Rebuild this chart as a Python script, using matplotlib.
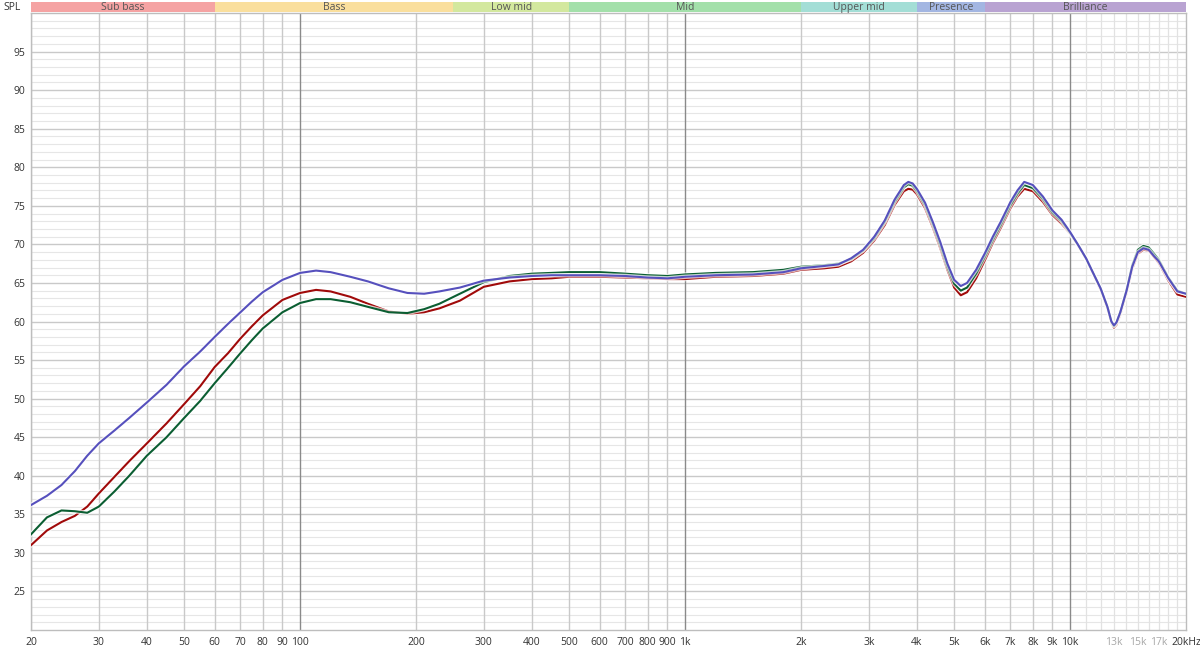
import matplotlib
matplotlib.use('Agg')
import matplotlib.pyplot as plt
import matplotlib.patheffects as pe

plt.rcParams['font.family'] = ['Open Sans', 'DejaVu Sans']

# frequency response data (Hz / dB SPL)
freqs = [20, 22, 24, 26, 28, 30, 33, 36, 40, 45, 50, 55, 60, 65, 70, 75, 80, 90, 100,
         110, 120, 135, 150, 170, 190, 210, 230, 260, 300,
         350, 400, 450, 500, 600, 700, 800, 900, 1000,
         1200, 1500, 1800, 2000, 2300, 2500, 2700, 2900, 3100, 3300,
         3500, 3700, 3800, 3900, 4000, 4200, 4400, 4600, 4800, 5000,
         5200, 5400, 5700, 6000, 6300, 6600, 7000, 7300, 7600, 8000,
         8500, 9000, 9500, 10000, 10500, 11000, 11500, 12000, 12500, 12800, 13000, 13200, 13500,
         14000, 14500, 15000, 15500, 16000, 16500, 17000, 18000, 19000, 20000]

spl_blue = [36.2, 37.4, 38.8, 40.6, 42.6, 44.2, 45.9, 47.5, 49.5, 51.8, 54.2, 56.1, 58.0, 59.7, 61.2, 62.6, 63.8, 65.4, 66.3,
            66.6, 66.4, 65.8, 65.2, 64.3, 63.7, 63.6, 63.9, 64.4, 65.3,
            65.7, 65.9, 66.0, 66.0, 66.0, 65.9, 65.7, 65.6, 65.8,
            66.0, 66.1, 66.4, 66.9, 67.2, 67.4, 68.2, 69.3, 71.0, 73.1,
            75.8, 77.7, 78.1, 77.9, 77.2, 75.4, 72.9, 70.3, 67.5, 65.4,
            64.6, 65.0, 66.7, 68.8, 71.0, 72.9, 75.5, 77.0, 78.1, 77.7,
            76.2, 74.4, 73.2, 71.6, 69.9, 68.2, 66.2, 64.3, 61.9, 60.0, 59.5, 59.9, 61.2,
            63.9, 67.1, 69.0, 69.5, 69.3, 68.5, 67.8, 65.6, 63.9, 63.6]

spl_red = [31.0, 32.9, 34.0, 34.8, 36.0, 37.7, 39.9, 41.9, 44.2, 46.8, 49.3, 51.6, 54.1, 55.9, 57.8, 59.4, 60.8, 62.8, 63.7,
           64.1, 63.9, 63.2, 62.3, 61.3, 61.0, 61.2, 61.7, 62.7, 64.5,
           65.2, 65.5, 65.6, 65.8, 65.8, 65.7, 65.6, 65.5, 65.5,
           65.8, 65.9, 66.2, 66.7, 66.9, 67.1, 67.8, 68.9, 70.5, 72.5,
           75.1, 76.9, 77.2, 77.1, 76.5, 74.7, 72.2, 69.5, 66.7, 64.4,
           63.4, 63.8, 65.6, 67.9, 70.2, 72.1, 74.7, 76.2, 77.2, 76.9,
           75.5, 73.8, 72.7, 71.4, 69.8, 68.1, 66.1, 64.1, 61.7, 59.8, 59.2, 59.6, 60.9,
           63.6, 66.8, 68.8, 69.3, 69.2, 68.4, 67.6, 65.3, 63.5, 63.2]

spl_green = [32.4, 34.6, 35.5, 35.4, 35.2, 36.0, 38.0, 40.0, 42.6, 45.0, 47.5, 49.7, 52.0, 54.0, 55.9, 57.6, 59.1, 61.2, 62.4,
             62.9, 62.9, 62.5, 61.9, 61.2, 61.1, 61.6, 62.3, 63.6, 65.1,
             65.9, 66.2, 66.3, 66.4, 66.4, 66.2, 66.0, 65.9, 66.1,
             66.3, 66.4, 66.7, 67.1, 67.3, 67.5, 68.1, 69.2, 70.8, 72.9,
             75.5, 77.4, 77.8, 77.6, 76.9, 75.1, 72.6, 69.9, 67.1, 64.9,
             64.0, 64.4, 66.2, 68.4, 70.6, 72.5, 75.1, 76.6, 77.7, 77.3,
             75.9, 74.1, 73.0, 71.5, 69.9, 68.2, 66.2, 64.3, 61.9, 60.0, 59.4, 59.9, 61.2,
             64.0, 67.3, 69.3, 69.8, 69.6, 68.8, 68.0, 65.7, 64.0, 63.6]

band_names = ['Sub bass', 'Bass', 'Low mid', 'Mid', 'Upper mid', 'Presence', 'Brilliance']
band_edges = [20, 60, 250, 500, 2000, 4000, 6000, 20000]
band_colors = ['#f5a3a3', '#fadf9d', '#d3e89e', '#a3e0aa', '#a3ded6', '#a3b6e2', '#b9a3d2']

y_ticks = [25, 30, 35, 40, 45, 50, 55, 60, 65, 70, 75, 80, 85, 90, 95]
x_ticks = [20, 30, 40, 50, 60, 70, 80, 90, 100, 200, 300, 400, 500, 600, 700, 800, 900,
           1000, 2000, 3000, 4000, 5000, 6000, 7000, 8000, 9000, 10000, 13000, 15000, 17000, 20000]
x_labels = ['20', '30', '40', '50', '60', '70', '80', '90', '100', '200', '300', '400', '500',
            '600', '700', '800', '900', '1k', '2k', '3k', '4k', '5k', '6k', '7k', '8k', '9k',
            '10k', '13k', '15k', '17k', '20kHz']
faint_labels = ['13k', '15k', '17k']

W, H = 1200, 649
fig = plt.figure(figsize=(W / 100, H / 100), dpi=100)
ax = fig.add_axes([31 / W, 19 / H, 1155 / W, 617 / H])
ax.set_xscale('log')
ax.set_xlim(20, 20000)
ax.set_ylim(20, 100)

# grid
for db in range(21, 100):
    if db % 5 == 0:
        ax.axhline(db, color='#c9c9c9', lw=1.0, zorder=1)
    else:
        ax.axhline(db, color='#e6e6e6', lw=0.8, zorder=0)
for dec in [10, 100, 1000]:
    for m in range(2, 10):
        ax.axvline(dec * m, color='#c9c9c9', lw=1.0, zorder=1)
for f in [100, 1000, 10000]:
    ax.axvline(f, color='#8a8a8a', lw=1.0, zorder=1)
for f in range(11000, 20000, 1000):
    ax.axvline(f, color='#e2e2e2', lw=0.9, zorder=1)

for s in ax.spines.values():
    s.set_color('#bdbdbd')
    s.set_linewidth(1.0)

halo = [pe.Stroke(linewidth=3.2, foreground='#ffffff', alpha=0.7), pe.Normal()]
ax.plot(freqs, spl_red, color='#a00a0a', lw=1.5, zorder=3, path_effects=halo)
ax.plot(freqs, spl_green, color='#0b5e32', lw=1.5, zorder=4, path_effects=halo)
ax.plot(freqs, spl_blue, color='#5650bd', lw=1.5, zorder=5, path_effects=halo)

ax.set_yticks(y_ticks, [str(v) for v in y_ticks])
ax.set_xticks(x_ticks, x_labels)
ax.minorticks_off()
ax.tick_params(length=0, labelsize=7.5, labelcolor='#333333', pad=4)
ax.tick_params(axis='x', pad=5)
for lab in ax.get_xticklabels():
    if lab.get_text() in faint_labels:
        lab.set_color('#a8a8a8')

# frequency band strip on top
bax = fig.add_axes([31 / W, 1 - 12 / H, 1155 / W, 10 / H])
bax.set_xscale('log')
bax.set_xlim(20, 20000)
bax.set_ylim(0, 1)
for name, lo, hi, c in zip(band_names, band_edges[:-1], band_edges[1:], band_colors):
    bax.axvspan(lo, hi, color=c, lw=0)
    bax.text((lo * hi) ** 0.5, 0.45, name, ha='center', va='center', fontsize=7.5, color='#555555')
bax.axis('off')

fig.text(12 / W, 1 - 7 / H, 'SPL', ha='center', va='center', fontsize=7.5, color='#333333')

fig.savefig('out.png', dpi=100)
